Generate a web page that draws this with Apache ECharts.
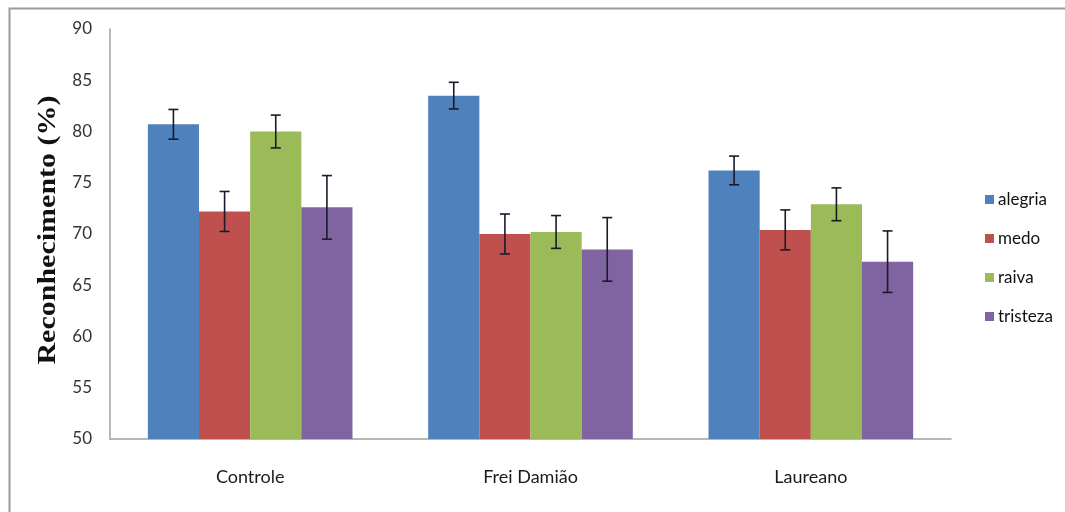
<!DOCTYPE html>
<html>
<head>
<meta charset="utf-8">
<script src="https://cdn.jsdelivr.net/npm/echarts@6/dist/echarts.min.js"></script>
<style>html,body{margin:0;padding:0;background:#fff}#c{width:1065px;height:512px}</style>
</head>
<body>
<div id="c"></div>
<script>
const categories = ['Controle', 'Frei Damião', 'Laureano'];
const seriesNames = ['alegria', 'medo', 'raiva', 'tristeza'];
const alegria = [80.7, 83.5, 76.2];
const medo = [72.2, 70.0, 70.4];
const raiva = [80.0, 70.2, 72.9];
const tristeza = [72.6, 68.5, 67.3];
const alegriaErr = [1.45, 1.3, 1.4];
const medoErr = [1.95, 1.95, 1.95];
const raivaErr = [1.6, 1.6, 1.6];
const tristezaErr = [3.1, 3.1, 3.0];
const yTicks = [50, 55, 60, 65, 70, 75, 80, 85, 90];
const colors = ['#4F81BD', '#C0504D', '#9BBB59', '#8064A2'];

const values = [alegria, medo, raiva, tristeza];
const errs = [alegriaErr, medoErr, raivaErr, tristezaErr];
const catGap = 0.27;

const barSeries = seriesNames.map((n, i) => ({
  name: n, type: 'bar', data: values[i], barGap: '0%', barCategoryGap: (catGap * 100) + '%',
  itemStyle: { color: colors[i] }, z: 2
}));

const errSeries = seriesNames.map((n, i) => ({
  name: n + '_err', type: 'custom', z: 5,
  data: values[i].map((v, k) => [k, v, errs[i][k]]),
  renderItem: function (params, api) {
    const k = api.value(0), v = api.value(1), e = api.value(2);
    const bandW = api.size([1, 0])[0];
    const bw = bandW * (1 - catGap) / 4;
    const off = (i - 1.5) * bw;
    const top = api.coord([k, v + e]);
    const bot = api.coord([k, v - e]);
    const x = top[0] + off;
    const cap = 5;
    const st = { stroke: '#1a1a2a', lineWidth: 1.6 };
    return { type: 'group', children: [
      { type: 'line', shape: { x1: x, y1: top[1], x2: x, y2: bot[1] }, style: st },
      { type: 'line', shape: { x1: x - cap, y1: top[1], x2: x + cap, y2: top[1] }, style: st },
      { type: 'line', shape: { x1: x - cap, y1: bot[1], x2: x + cap, y2: bot[1] }, style: st }
    ]};
  }
}));

const chart = echarts.init(document.getElementById('c'));
chart.setOption({
  animation: false,
  backgroundColor: '#fff',
  grid: { left: 110, right: 114, top: 29, bottom: 73 },
  legend: {
    data: seriesNames, orient: 'vertical', left: 980, top: 186,
    itemWidth: 9, itemHeight: 9, itemGap: 22,
    icon: 'rect',
    textStyle: { fontFamily: 'Lato', fontSize: 17, color: '#111', padding: [0, 0, 0, -1] }
  },
  xAxis: {
    type: 'category', data: categories,
    axisLine: { lineStyle: { color: '#a0a0a0', width: 1.5 } },
    axisTick: { show: false },
    axisLabel: { fontFamily: 'Lato', fontSize: 18, color: '#1a1a1a', margin: 29 }
  },
  yAxis: {
    type: 'value', min: 50, max: 90, interval: 5,
    axisLine: { show: true, lineStyle: { color: '#a0a0a0', width: 1.5 } },
    axisTick: { show: false },
    splitLine: { show: false },
    axisLabel: { fontFamily: 'Lato', fontSize: 17, color: '#333', margin: 18,
      formatter: v => yTicks.includes(v) ? String(v) : '' }
  },
  graphic: [
    { type: 'rect', left: 7, top: 6, shape: { width: 1100, height: 600 },
      style: { fill: 'none', stroke: '#9a9a9a', lineWidth: 2 }, silent: true },
    { type: 'text', x: 49, y: 230, rotation: Math.PI / 2, scaleX: 1.2,
      style: { text: 'Reconhecimento (%)', font: 'bold 25px "Liberation Serif"', fill: '#111',
        align: 'center', verticalAlign: 'middle' } }
  ],
  series: barSeries.concat(errSeries)
});
</script>
</body>
</html>
